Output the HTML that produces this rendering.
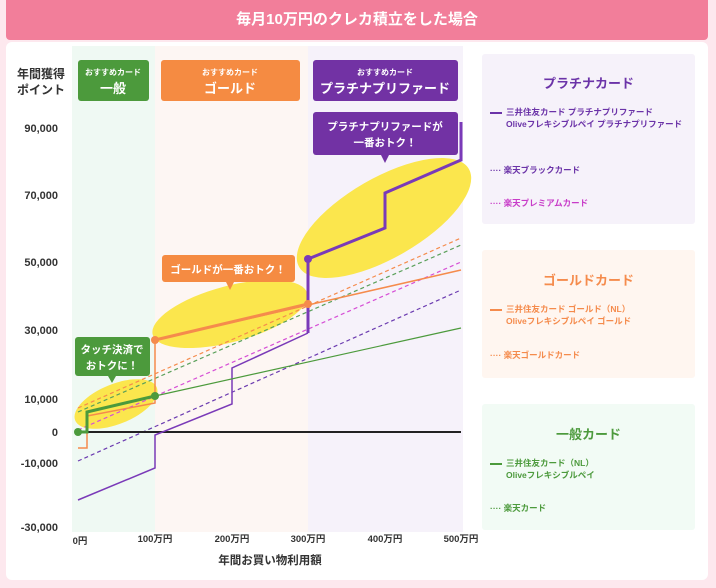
<!DOCTYPE html><html><head><meta charset="utf-8"><style>
body{margin:0;width:716px;height:588px;background:#fde8ee;font-family:"Liberation Sans","Noto Sans CJK JP",sans-serif;position:relative;overflow:hidden}
.hd{position:absolute;left:6px;top:0;width:702px;height:40px;background:#f27e9a;color:#fff;font-weight:bold;font-size:15px;text-align:center;line-height:40px;border-radius:0 0 4px 4px}
.card{position:absolute;left:6px;top:42px;width:702px;height:538px;background:#fff;border-radius:6px}
.a{position:absolute;font-weight:bold;font-size:11px;color:#333}
.lp{position:absolute;left:482px;width:213px;border-radius:3px}
.lp h3{margin:0;text-align:center;font-size:13px;font-weight:bold}
.li{position:absolute;left:8px;font-size:8.5px;font-weight:bold;line-height:12px}
</style></head><body>
<div class="hd">毎月10万円のクレカ積立をした場合</div>
<div class="card"></div>
<svg style="position:absolute;left:0;top:0" width="716" height="588" font-family="Liberation Sans, Noto Sans CJK JP, sans-serif">
<rect x="72" y="46" width="83" height="486" fill="#eff9f3"/>
<rect x="155" y="46" width="153" height="486" fill="#fdf6f3"/>
<rect x="308" y="46" width="155" height="486" fill="#f6f2fa"/>
<ellipse cx="116" cy="404" rx="44" ry="20" transform="rotate(-22 116 404)" fill="#fbe64d"/>
<ellipse cx="230" cy="314" rx="80" ry="28" transform="rotate(-15 230 314)" fill="#fbe64d"/>
<ellipse cx="384" cy="218" rx="98" ry="40" transform="rotate(-30 384 218)" fill="#fbe64d"/>
<g fill="none" stroke-width="1.2" stroke-dasharray="4 3">
<line x1="78" y1="461" x2="461" y2="290" stroke="#6b3bb0"/>
<line x1="78" y1="430" x2="461" y2="262" stroke="#d64fd6"/>
<line x1="78" y1="408" x2="461" y2="238" stroke="#f58b4c"/>
<line x1="78" y1="412" x2="461" y2="245" stroke="#5aa05a"/>
</g>
<line x1="78" y1="432" x2="461" y2="432" stroke="#222" stroke-width="2"/>
<polyline fill="none" stroke="#7a3ab8" stroke-width="1.5" points="78,500 155,468 155,435 232,404 232,368 308,333"/>
<polyline fill="none" stroke="#7a3ab8" stroke-width="3" points="308,333 308,259 385,228 385,193 461,160 461,122"/>
<polyline fill="none" stroke="#f58b4c" stroke-width="1.5" points="78,448 87,448 87,416 155,403 155,340 461,270"/>
<polyline fill="none" stroke="#f58b4c" stroke-width="3" points="155,340 308,304"/>
<polyline fill="none" stroke="#4c9a3c" stroke-width="1.2" points="155,396 461,328"/>
<polyline fill="none" stroke="#4c9a3c" stroke-width="3" points="78,432 87,432 87,412 155,396"/>
<circle cx="78" cy="432" r="4" fill="#4c9a3c"/><circle cx="155" cy="396" r="4" fill="#4c9a3c"/>
<circle cx="155" cy="340" r="4" fill="#f58b4c"/><circle cx="308" cy="304" r="4" fill="#f58b4c"/>
<circle cx="308" cy="259" r="4" fill="#7a3ab8"/>
<rect x="78" y="60" width="71" height="41" rx="3" fill="#4c9a3c"/>
<rect x="161" y="60" width="139" height="41" rx="3" fill="#f58b42"/>
<rect x="313" y="60" width="145" height="41" rx="3" fill="#7232a4"/>
<g fill="#fff" font-weight="bold" text-anchor="middle">
<text x="113" y="75" font-size="8">おすすめカード</text><text x="113" y="93" font-size="13">一般</text>
<text x="230" y="75" font-size="8">おすすめカード</text><text x="230" y="93" font-size="13">ゴールド</text>
<text x="385" y="75" font-size="8">おすすめカード</text><text x="385" y="93" font-size="13">プラチナプリファード</text>
</g>
<rect x="75" y="337" width="75" height="39" rx="3" fill="#4c9a3c"/><polygon points="108,376 116,376 112,383" fill="#4c9a3c"/>
<rect x="162" y="255" width="133" height="27" rx="3" fill="#f58b42"/><polygon points="226,282 234,282 230,290" fill="#f58b42"/>
<rect x="313" y="112" width="145" height="43" rx="3" fill="#7232a4"/><polygon points="381,155 389,155 385,163" fill="#7232a4"/>
<g fill="#fff" font-weight="bold" font-size="10.5" text-anchor="middle">
<text x="112" y="353">タッチ決済で</text><text x="112" y="369">おトクに！</text>
<text x="228" y="273">ゴールドが一番おトク！</text>
<text x="385" y="130">プラチナプリファードが</text><text x="385" y="146">一番おトク！</text>
</g>
<g fill="#333" font-weight="bold" font-size="11" text-anchor="end">
<text x="58" y="132">90,000</text><text x="58" y="199">70,000</text><text x="58" y="266">50,000</text><text x="58" y="334">30,000</text><text x="58" y="403">10,000</text><text x="58" y="436">0</text><text x="58" y="467">-10,000</text><text x="58" y="531">-30,000</text>
</g>
<g fill="#333" font-weight="bold" font-size="12"><text x="17" y="78">年間獲得</text><text x="17" y="94">ポイント</text></g>
<g fill="#333" font-weight="bold" font-size="9.5" text-anchor="middle">
<text x="80" y="544">0円</text><text x="155" y="542">100万円</text><text x="232" y="542">200万円</text><text x="308" y="542">300万円</text><text x="385" y="542">400万円</text><text x="461" y="542">500万円</text>
</g>
<text x="270" y="564" fill="#333" font-weight="bold" font-size="11.5" text-anchor="middle">年間お買い物利用額</text>
</svg>
<div class="lp" style="top:54px;height:170px;background:#f6f2fa"><h3 style="color:#6b33a8;margin-top:19px">プラチナカード</h3>
<div class="li" style="top:52px;color:#6b33a8"><span style="display:inline-block;width:12px;border-top:2px solid #6b33a8;vertical-align:middle;margin-right:4px"></span>三井住友カード プラチナプリファード<br><span style="margin-left:16px">Oliveフレキシブルペイ プラチナプリファード</span></div>
<div class="li" style="top:110px;color:#6b33a8">···· 楽天ブラックカード</div>
<div class="li" style="top:143px;color:#c83cc8">···· 楽天プレミアムカード</div></div>
<div class="lp" style="top:250px;height:128px;background:#fff6f0"><h3 style="color:#f58b4c;margin-top:20px">ゴールドカード</h3>
<div class="li" style="top:53px;color:#f58b4c"><span style="display:inline-block;width:12px;border-top:2px solid #f58b4c;vertical-align:middle;margin-right:4px"></span>三井住友カード ゴールド（NL）<br><span style="margin-left:16px">Oliveフレキシブルペイ ゴールド</span></div>
<div class="li" style="top:99px;color:#f58b4c">···· 楽天ゴールドカード</div></div>
<div class="lp" style="top:404px;height:126px;background:#f2fbf5"><h3 style="color:#4c9a3c;margin-top:20px">一般カード</h3>
<div class="li" style="top:53px;color:#4c9a3c"><span style="display:inline-block;width:12px;border-top:2px solid #4c9a3c;vertical-align:middle;margin-right:4px"></span>三井住友カード（NL）<br><span style="margin-left:16px">Oliveフレキシブルペイ</span></div>
<div class="li" style="top:98px;color:#4c9a3c">···· 楽天カード</div></div>
</body></html>
